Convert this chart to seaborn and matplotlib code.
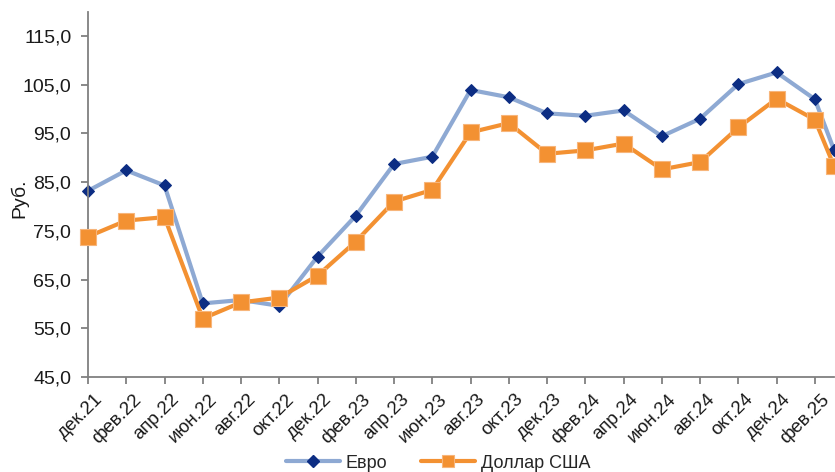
import pandas as pd
import numpy as np
import matplotlib
matplotlib.use("Agg")
import matplotlib.pyplot as plt
import matplotlib.transforms as mtransforms
from matplotlib.lines import Line2D
import seaborn as sns

# Monthly observation dates (bimonthly, plus the latest month)
dates = ["2021-12", "2022-02", "2022-04", "2022-06", "2022-08", "2022-10",
         "2022-12", "2023-02", "2023-04", "2023-06", "2023-08", "2023-10",
         "2023-12", "2024-02", "2024-04", "2024-06", "2024-08", "2024-10",
         "2024-12", "2025-02", "2025-03"]

# Exchange rates, rubles
eur = [83.2, 87.4, 84.3, 60.1, 60.8, 59.6, 69.7, 78.1, 88.7, 90.2, 103.9,
       102.4, 99.1, 98.6, 99.7, 94.4, 98.0, 105.1, 107.5, 102.0, 91.6]
usd = [73.8, 77.1, 77.8, 57.0, 60.3, 61.3, 65.8, 72.8, 81.0, 83.4, 95.2,
       97.1, 90.8, 91.5, 92.9, 87.6, 89.1, 96.2, 102.1, 97.8, 88.3]

# Axis tick labels (every second month)
tick_labels = ["дек.21", "фев.22", "апр.22", "июн.22", "авг.22", "окт.22",
               "дек.22", "фев.23", "апр.23", "июн.23", "авг.23", "окт.23",
               "дек.23", "фев.24", "апр.24", "июн.24", "авг.24", "окт.24",
               "дек.24", "фев.25"]
y_ticks = [45, 55, 65, 75, 85, 95, 105, 115]

series_names = ["Евро", "Доллар США"]

sns.set_style("white")
plt.rcParams["font.family"] = ["Liberation Sans", "DejaVu Sans"]

FS = 14
TXT = "#1a1a1a"
EUR_LINE, EUR_MARK = "#8EA9D3", "#0C2D83"
USD_COL, USD_EDGE = "#F39132", "#F7B57A"

per = pd.PeriodIndex(dates, freq="M")
month_idx = np.array([(p - per[0]).n for p in per])

df = pd.DataFrame({"month": month_idx, "eur": eur, "usd": usd})

fig = plt.figure(figsize=(8.35, 4.72), dpi=100)
ax = fig.add_axes([88 / 835, 1 - 377 / 472, 746 / 835, 365.5 / 472])

sns.lineplot(data=df, x="month", y="eur", ax=ax, color=EUR_LINE, lw=3.0,
             marker="D", markersize=6.5, markerfacecolor=EUR_MARK,
             markeredgecolor=EUR_MARK, zorder=2, clip_on=False)
sns.lineplot(data=df, x="month", y="usd", ax=ax, color=USD_COL, lw=3.0,
             marker="s", markersize=11.5, markerfacecolor=USD_COL,
             markeredgecolor=USD_EDGE, markeredgewidth=0.8,
             zorder=3, clip_on=False)

ax.set_xlim(0, month_idx[-1])
ax.set_ylim(45, 120)
ax.set_yticks(y_ticks)
ax.set_yticklabels([f"{v:.1f}".replace(".", ",") for v in y_ticks])
ax.set_xticks(np.arange(0, 2 * len(tick_labels), 2))
ax.set_xticklabels(tick_labels, rotation=45, ha="right", va="top",
                   rotation_mode="anchor")

ax.set_xlabel("")
ax.set_ylabel("Руб.", fontsize=FS, color=TXT)
ax.yaxis.set_label_coords(-0.080, 0.49)

for s in ["top", "right"]:
    ax.spines[s].set_visible(False)
for s in ["left", "bottom"]:
    ax.spines[s].set_color("#808080")
    ax.spines[s].set_linewidth(1.3)

ax.tick_params(axis="y", direction="out", length=5, width=1.3,
               color="#808080", labelsize=FS, labelcolor=TXT, pad=7,
               left=True)
ax.tick_params(axis="x", direction="out", length=5, width=1.3,
               color="#808080", labelsize=FS - 0.5, labelcolor=TXT, pad=5,
               bottom=True)
ax.grid(False)

shift = mtransforms.ScaledTranslation(6 / 100, 0, fig.dpi_scale_trans)
for lab in ax.get_xticklabels():
    lab.set_transform(lab.get_transform() + shift)

handles = [
    Line2D([], [], color=EUR_LINE, lw=3.0, marker="D", markersize=6.5,
           markerfacecolor=EUR_MARK, markeredgecolor=EUR_MARK),
    Line2D([], [], color=USD_COL, lw=3.0, marker="s", markersize=9,
           markerfacecolor=USD_COL, markeredgecolor=USD_EDGE,
           markeredgewidth=0.8),
]
fig.legend(handles, series_names, loc="center",
           bbox_to_anchor=(438 / 835, 9 / 472), ncol=2, frameon=False,
           fontsize=13, handlelength=3.0, columnspacing=1.9,
           handletextpad=0.3, borderaxespad=0)

fig.savefig("out.png", dpi=100)
